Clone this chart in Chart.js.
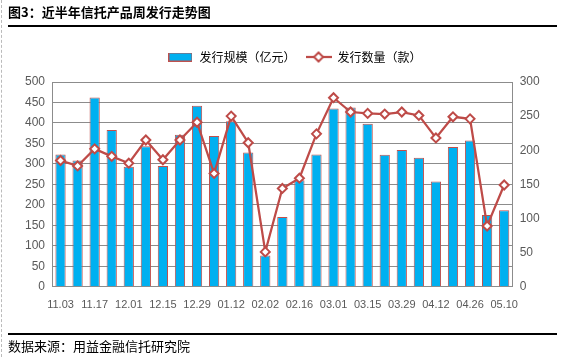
<!DOCTYPE html>
<html><head><meta charset="utf-8">
<script src="https://cdn.jsdelivr.net/npm/chart.js@4/dist/chart.umd.min.js"></script>
<style>
html,body{margin:0;padding:0;background:#fff;}
#wrap{position:relative;width:565px;height:357px;overflow:hidden;font-family:"Noto Sans CJK SC",sans-serif;}
#c{position:absolute;left:0;top:0;}
.title{position:absolute;left:8px;top:3px;font-size:13px;font-weight:700;color:#000;line-height:18px;}
.rule1{position:absolute;left:8px;right:8px;top:25px;height:2px;background:#000;}
.rule2{position:absolute;left:8px;right:8px;top:333px;height:2px;background:#000;}
.foot{position:absolute;left:8px;top:337px;font-size:13px;color:#000;line-height:18px;}
.dash{position:absolute;left:1px;top:0;bottom:0;border-left:1px dashed #bbb;}
</style></head>
<body><div id="wrap">
<canvas id="c" width="565" height="357"></canvas>
<div class="dash"></div>
<div class="title">图3：近半年信托产品周发行走势图</div>
<div class="rule1"></div>
<div class="rule2"></div>
<div class="foot">数据来源：用益金融信托研究院</div>
</div>
<script>
const weeks = ["11.03","11.10","11.17","11.24","12.01","12.08","12.15","12.22","12.29","01.05","01.12","01.19","02.02","02.09","02.16","02.23","03.01","03.08","03.15","03.22","03.29","04.05","04.12","04.19","04.26","05.03","05.10"];
const scaleValues = [323,308,462,383,293,343,295,371,442,368,404,328,76,170,260,323,435,438,398,322,334,315,257,341,357,175,187];
const countValues = [185,177,202,191,181,215,186,215,241,166,250,211,51,144,159,224,277,256,254,253,256,251,218,249,246,89,149];
const seriesNames = ["发行规模（亿元）","发行数量（款）"];
const leftTicks = [0,50,100,150,200,250,300,350,400,450,500];
const rightTicks = [0,50,100,150,200,250,300];

const BLUE = '#00B0F0', RED = '#C0504D', LINE = '#BE4B48', TICK = '#595959', GRID = '#8C8C8C';

function barIcon(){
  const c = document.createElement('canvas'); c.width = 24; c.height = 9;
  const x = c.getContext('2d');
  x.fillStyle = BLUE; x.fillRect(0.5,0.5,23,8);
  x.strokeStyle = RED; x.lineWidth = 1; x.strokeRect(0.5,0.5,23,8);
  return c;
}
function lineIcon(){
  const c = document.createElement('canvas'); c.width = 26; c.height = 12;
  const x = c.getContext('2d');
  x.strokeStyle = LINE; x.lineWidth = 2.25;
  x.beginPath(); x.moveTo(0,6); x.lineTo(26,6); x.stroke();
  x.beginPath(); x.moveTo(13,1.5); x.lineTo(17.5,6); x.lineTo(13,10.5); x.lineTo(8.5,6); x.closePath();
  x.fillStyle = '#fff'; x.fill(); x.lineWidth = 2; x.stroke();
  return c;
}

const layoutFix = {
  id: 'layoutFix',
  beforeInit(chart){
    const lg = chart.legend;
    if (lg){ const of = lg.fit; lg.fit = function(){ of.call(this); this.height = 41; }; }
  },
  afterLayout(chart){
    const lg = chart.legend;
    if (lg){ lg.left += 12; lg.right += 12; }
  }
};

new Chart(document.getElementById('c'), {
  data: {
    labels: weeks,
    datasets: [
      { type:'bar', label: seriesNames[0], data: scaleValues, yAxisID:'y', order: 2,
        backgroundColor: BLUE, borderColor: RED, borderWidth: 1,
        categoryPercentage: 1.0, barPercentage: 0.6 },
      { type:'line', label: seriesNames[1], data: countValues, yAxisID:'y1', order: 1,
        borderColor: LINE, borderWidth: 2.25, tension: 0,
        pointStyle:'rectRot', pointRadius: 4.5, pointBorderWidth: 2,
        pointBackgroundColor:'#fff', pointBorderColor: LINE }
    ]
  },
  options: {
    responsive: false, animation: false,
    layout: { padding: { top: 41, left: 0, right: 0, bottom: 0 } },
    plugins: {
      tooltip: { enabled: false },
      legend: {
        position: 'top', align: 'center',
        labels: {
          usePointStyle: true, pointStyleWidth: 26, padding: 10,
          color: '#000', font: { family: '"Noto Sans CJK SC", sans-serif', size: 12 },
          generateLabels(){
            return [
              { text: seriesNames[0], pointStyle: barIcon(), fillStyle: BLUE, strokeStyle: RED, lineWidth: 0, datasetIndex: 0, hidden: false, fontColor:'#000' },
              { text: seriesNames[1], pointStyle: lineIcon(), fillStyle: '#fff', strokeStyle: LINE, lineWidth: 0, datasetIndex: 1, hidden: false, fontColor:'#000' }
            ];
          }
        }
      }
    },
    scales: {
      x: {
        grid: { display: false },
        border: { display: true, color: GRID, width: 1 },
        ticks: { autoSkip: false, maxRotation: 0, color: TICK, padding: 4,
          font: { family: '"Liberation Sans", sans-serif', size: 11 },
          callback(v, i){ return i % 2 === 0 ? weeks[i] : ''; } },
        afterFit(s){ s.height = 70.3; }
      },
      y: {
        position: 'left', min: 0, max: 500,
        afterBuildTicks(s){ s.ticks = leftTicks.map(v => ({ value: v })); },
        grid: { color: GRID, lineWidth: 1, drawTicks: false },
        border: { display: true, color: GRID },
        ticks: { color: TICK, padding: 7, font: { family: '"Liberation Sans", sans-serif', size: 12 } },
        afterFit(s){ s.width = 52; }
      },
      y1: {
        position: 'right', min: 0, max: 300,
        afterBuildTicks(s){ s.ticks = rightTicks.map(v => ({ value: v })); },
        grid: { display: false, drawTicks: false },
        border: { display: true, color: GRID },
        ticks: { color: TICK, padding: 7, font: { family: '"Liberation Sans", sans-serif', size: 12 } },
        afterFit(s){ s.width = 52.3; }
      }
    }
  },
  plugins: [layoutFix]
});
</script>
</body></html>
